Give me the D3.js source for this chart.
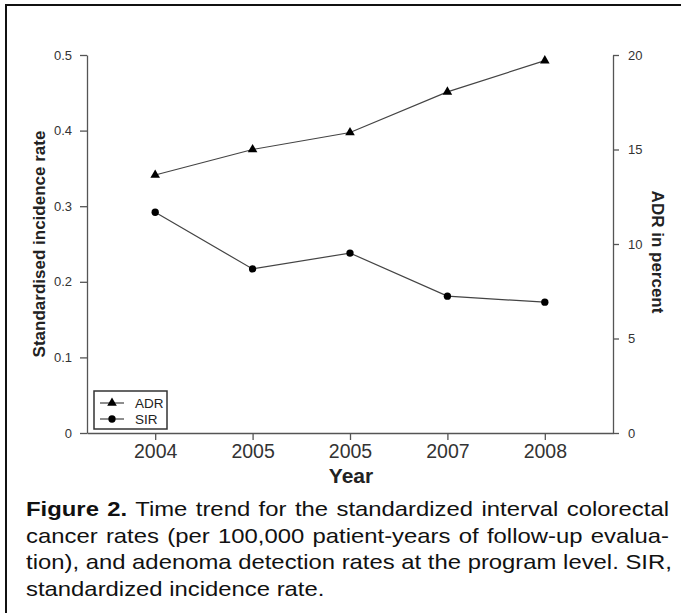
<!DOCTYPE html>
<html lang="en">
<head>
<meta charset="utf-8">
<script src="https://d3js.org/d3.v7.min.js"></script>
<style type="text/css">
  body {
    margin: 0;
    background: #fff;
    font-family: "Liberation Sans", Arial, sans-serif;
  }
  #wrap {
    position: relative;
    width: 681px;
    height: 613px;
    overflow: hidden;
  }
  svg {
    position: absolute;
    left: 0;
    top: 0;
  }
  /* caption under the chart; the scan is a bit stretched sideways */
  .caption {
    position: absolute;
    left: 26px;
    top: 496px;
    width: 566px;
    font-size: 21px;
    line-height: 26.5px;
    color: #111;
    transform: scale(1.136, 1);
    transform-origin: 0 0;
  }
  .caption div {
    text-align: justify;
    text-align-last: justify;
    white-space: nowrap;
  }
  .caption div.last {
    text-align-last: left;
  }
</style>
</head>
<body>
<div id="wrap"></div>
<script type="text/javascript">

  // chart data
  var years = ["2004", "2005", "2005", "2007", "2008"];
  var adr = [13.65, 15.0, 15.9, 18.05, 19.7];      // ADR in percent (right axis)
  var sir = [0.292, 0.217, 0.238, 0.181, 0.173];  // standardised incidence rate (left axis)
  var leftTicks = [0, 0.1, 0.2, 0.3, 0.4, 0.5];
  var rightTicks = [0, 5, 10, 15, 20];
  var legendText = ["ADR", "SIR"];
  var captionLines = [
    "<b>Figure 2.</b> Time trend for the standardized interval colorectal",
    "cancer rates (per 100,000 patient-years of follow-up evalua-",
    "tion), and adenoma detection rates at the program level. SIR,",
    "standardized incidence rate."
  ];

  var width = 681;
  var height = 613;

  var wrap = d3.select("#wrap");

  var svg = wrap.append("svg")
    .attr("width", width)
    .attr("height", height);

  // frame lines (top and left visible in the scan)
  svg.append("line").attr("x1", 6).attr("y1", 5).attr("x2", width).attr("y2", 5)
    .attr("stroke", "#111").attr("stroke-width", 2);
  svg.append("line").attr("x1", 6).attr("y1", 4).attr("x2", 6).attr("y2", height)
    .attr("stroke", "#111").attr("stroke-width", 2);

  // scales; x is by index because two categories share the label 2005
  var x = d3.scaleLinear().domain([-0.7, 4.7]).range([87, 613]);
  var yLeft = d3.scaleLinear().domain([0, 0.5]).range([433, 55]);
  var yRight = d3.scaleLinear().domain([0, 20]).range([433, 55]);

  var axisColor = "#555";
  var textColor = "#333";

  // left axis
  var gl = svg.append("g")
    .attr("transform", "translate(87,0)")
    .call(d3.axisLeft(yLeft).tickValues(leftTicks).tickSize(7).tickSizeOuter(0)
      .tickFormat(function(d) { return d === 0 ? "0" : d3.format(".1f")(d); }));

  // right axis
  var gr = svg.append("g")
    .attr("transform", "translate(613,0)")
    .call(d3.axisRight(yRight).tickValues(rightTicks).tickSize(6).tickSizeOuter(0));

  // bottom axis
  var gb = svg.append("g")
    .attr("transform", "translate(0,433)")
    .call(d3.axisBottom(x).tickValues(d3.range(years.length)).tickSize(7).tickSizeOuter(0)
      .tickFormat(function(i) { return years[i]; }));

  [gl, gr, gb].forEach(function(g) {
    g.select(".domain").attr("stroke", axisColor).attr("stroke-width", 1.3);
    g.selectAll(".tick line").attr("stroke", axisColor).attr("stroke-width", 1.3);
    g.selectAll(".tick text").attr("fill", textColor)
      .style("font-family", "'Liberation Sans', Arial, sans-serif");
  });
  gl.selectAll(".tick text").attr("x", -15).style("font-size", "13px");
  gr.selectAll(".tick text").attr("x", 15).style("font-size", "13px");
  gb.selectAll(".tick text").attr("y", 11).style("font-size", "19.5px");

  // axis titles
  svg.append("text")
    .attr("transform", "translate(39,244) rotate(-90)")
    .attr("text-anchor", "middle")
    .attr("dominant-baseline", "central")
    .style("font-size", "17px")
    .style("font-weight", "bold")
    .attr("fill", "#222")
    .text("Standardised incidence rate");

  svg.append("text")
    .attr("transform", "translate(657,252) rotate(90)")
    .attr("text-anchor", "middle")
    .attr("dominant-baseline", "central")
    .style("font-size", "17px")
    .style("font-weight", "bold")
    .attr("fill", "#222")
    .text("ADR in percent");

  svg.append("text")
    .attr("x", 351)
    .attr("y", 483)
    .attr("text-anchor", "middle")
    .style("font-size", "21px")
    .style("font-weight", "bold")
    .attr("fill", "#222")
    .text("Year");

  // lines
  var lineColor = "#444";
  var adrLine = d3.line()
    .x(function(d, i) { return x(i); })
    .y(function(d) { return yRight(d); });
  var sirLine = d3.line()
    .x(function(d, i) { return x(i); })
    .y(function(d) { return yLeft(d); });

  svg.append("path").datum(adr).attr("d", adrLine)
    .attr("fill", "none").attr("stroke", lineColor).attr("stroke-width", 1.2);
  svg.append("path").datum(sir).attr("d", sirLine)
    .attr("fill", "none").attr("stroke", lineColor).attr("stroke-width", 1.2);

  var tri = d3.symbol().type(d3.symbolTriangle).size(40);
  var dot = d3.symbol().type(d3.symbolCircle).size(42);

  svg.selectAll("path.adr")
    .data(adr)
    .enter()
    .append("path")
    .attr("class", "adr")
    .attr("d", tri)
    .attr("transform", function(d, i) { return "translate(" + x(i) + "," + yRight(d) + ")"; })
    .attr("fill", "#000");

  svg.selectAll("path.sir")
    .data(sir)
    .enter()
    .append("path")
    .attr("class", "sir")
    .attr("d", dot)
    .attr("transform", function(d, i) { return "translate(" + x(i) + "," + yLeft(d) + ")"; })
    .attr("fill", "#000");

  // legend
  var legend = svg.append("g").attr("transform", "translate(94,391)");
  legend.append("rect")
    .attr("width", 73)
    .attr("height", 38)
    .attr("fill", "#fff")
    .attr("stroke", "#333")
    .attr("stroke-width", 1.5);

  var items = legend.selectAll("g.item")
    .data(legendText)
    .enter()
    .append("g")
    .attr("class", "item")
    .attr("transform", function(d, i) { return "translate(0," + (12 + i * 16) + ")"; });

  items.append("line")
    .attr("x1", 6).attr("x2", 30)
    .attr("stroke", lineColor).attr("stroke-width", 1.2);

  items.append("path")
    .attr("d", function(d, i) { return i === 0 ? tri() : dot(); })
    .attr("transform", "translate(18,0)")
    .attr("fill", "#000");

  items.append("text")
    .attr("x", 41)
    .attr("dy", "0.36em")
    .style("font-size", "13.5px")
    .attr("fill", "#222")
    .text(function(d) { return d; });

  // caption
  var cap = wrap.append("div").attr("class", "caption");
  cap.selectAll("div")
    .data(captionLines)
    .enter()
    .append("div")
    .attr("class", function(d, i) { return i === captionLines.length - 1 ? "last" : null; })
    .html(function(d) { return d; });
</script>
</body>
</html>
